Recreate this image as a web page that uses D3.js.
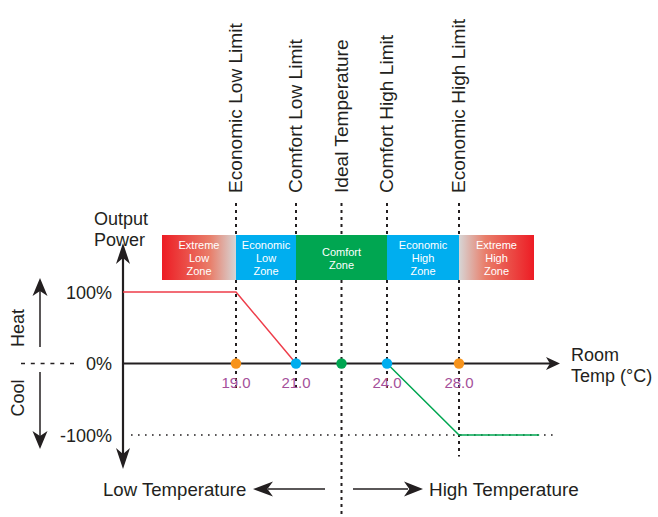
<!DOCTYPE html>
<html>
<head>
<meta charset="utf-8">
<script src="https://cdn.jsdelivr.net/npm/d3@7"></script>
<style>
  html, body { margin: 0; padding: 0; background: #fff; }
  svg { display: block; font-family: "Liberation Sans", Arial, Helvetica, sans-serif; }
</style>
</head>
<body>
<svg id="chart" width="658" height="517"></svg>
<script>
// ---------------- data ----------------
const limitLabels = ["Economic Low Limit", "Comfort Low Limit", "Ideal Temperature", "Comfort High Limit", "Economic High Limit"];
const limitTemps  = [19, 21, 22.5, 24, 28];
const limitColors = ["#f7941d", "#00aeef", "#00a651", "#00aeef", "#f7941d"];
const tempLabels  = ["19.0", "21.0", "", "24.0", "28.0"];
const limitLineEnds = [-40, -40, -215, -40, -130]; // output % where each dashed guide stops

const zoneNames = [["Extreme", "Low", "Zone"], ["Economic", "Low", "Zone"], ["Comfort", "Zone"], ["Economic", "High", "Zone"], ["Extreme", "High", "Zone"]];
const zoneStart = [17, 19, 21, 24, 28];
const zoneEnd   = [19, 21, 24, 28, 31];
const zoneFill  = ["url(#gradLow)", "#00aeef", "#00a651", "#00aeef", "url(#gradHigh)"];

const heatTemps  = [16, 19, 21];
const heatOutput = [100, 100, 0];
const coolTemps  = [24, 28, 31.2];
const coolOutput = [0, -100, -100];

const yTickValues = [100, 0, -100];
const yTickLabels = ["100%", "0%", "-100%"];

// ---------------- scales ----------------
const svg = d3.select("#chart");
const ink = "#231f20";
// schematic (piecewise) temperature axis
const x = d3.scaleLinear()
  .domain([16, 17, 19, 21, 24, 28, 31, 32])
  .range([123, 162, 236, 296, 387, 459, 534, 560]);
const y = d3.scaleLinear().domain([-100, 100]).range([435, 292]);

const x0 = x(16);
const xEnd = x(32);

function arrow(g, tx, ty, angleDeg, len, w, fill) {
  const notch = len * 0.72;
  g.append("path")
    .attr("d", `M0,0 L${-len},${-w / 2} L${-notch},0 L${-len},${w / 2} Z`)
    .attr("transform", `translate(${tx},${ty}) rotate(${angleDeg})`)
    .attr("fill", fill || ink);
}

// gradients
const defs = svg.append("defs");
const gl = defs.append("linearGradient").attr("id", "gradLow").attr("x1", "0%").attr("x2", "100%");
gl.append("stop").attr("offset", "0%").attr("stop-color", "#ed1c24");
gl.append("stop").attr("offset", "65%").attr("stop-color", "#e97e6a");
gl.append("stop").attr("offset", "100%").attr("stop-color", "#d6d6d6");
const gh = defs.append("linearGradient").attr("id", "gradHigh").attr("x1", "0%").attr("x2", "100%");
gh.append("stop").attr("offset", "0%").attr("stop-color", "#d6d6d6");
gh.append("stop").attr("offset", "35%").attr("stop-color", "#e97e6a");
gh.append("stop").attr("offset", "100%").attr("stop-color", "#ed1c24");

// ---------------- vertical dashed guides ----------------
svg.append("g").selectAll("line").data(limitTemps).join("line")
  .attr("x1", d => x(d)).attr("x2", d => x(d))
  .attr("y1", 203)
  .attr("y2", (d, i) => y(limitLineEnds[i]))
  .attr("stroke", ink).attr("stroke-width", 2)
  .attr("stroke-dasharray", "3,4");

// limit labels (rotated)
svg.append("g").selectAll("text").data(limitLabels).join("text")
  .attr("transform", (d, i) => `translate(${x(limitTemps[i]) + 6},193) rotate(-90)`)
  .attr("font-size", 19.1).attr("fill", ink)
  .text(d => d);

// ---------------- zone bar ----------------
const zg = svg.append("g");
zg.selectAll("rect").data(zoneNames).join("rect")
  .attr("x", (d, i) => x(zoneStart[i]))
  .attr("width", (d, i) => x(zoneEnd[i]) - x(zoneStart[i]))
  .attr("y", 235).attr("height", 45)
  .attr("fill", (d, i) => zoneFill[i]);
zg.selectAll("text").data(zoneNames).join("text")
  .attr("x", (d, i) => (x(zoneStart[i]) + x(zoneEnd[i])) / 2)
  .attr("y", d => 258 - (d.length - 1) * 6.5 + 4)
  .attr("text-anchor", "middle")
  .attr("font-size", 11).attr("fill", "#fff")
  .each(function (d) {
    d3.select(this).selectAll("tspan").data(d).join("tspan")
      .attr("x", d3.select(this).attr("x"))
      .attr("dy", (t, k) => k === 0 ? 0 : 13)
      .text(t => t);
  });

// ---------------- axes ----------------
// -100% dotted reference
svg.append("line")
  .attr("x1", x0 + 8).attr("x2", xEnd - 4)
  .attr("y1", y(-100)).attr("y2", y(-100))
  .attr("stroke", ink).attr("stroke-width", 1.6)
  .attr("stroke-dasharray", "1.6,5.4");

// y axis line with arrows
svg.append("line").attr("x1", x0).attr("x2", x0).attr("y1", 250).attr("y2", 462)
  .attr("stroke", ink).attr("stroke-width", 2.2);
arrow(svg, x0, 243, -90, 21, 14);
arrow(svg, x0, 469, 90, 21, 14);

// x axis line with arrow
svg.append("line").attr("x1", x0).attr("x2", xEnd - 6).attr("y1", y(0)).attr("y2", y(0))
  .attr("stroke", ink).attr("stroke-width", 2.2);
arrow(svg, xEnd, y(0), 0, 14, 13);

// y tick labels
svg.append("g").selectAll("text").data(yTickValues).join("text")
  .attr("x", 112).attr("y", d => y(d) + 6.5)
  .attr("text-anchor", "end").attr("font-size", 18).attr("fill", ink)
  .text((d, i) => yTickLabels[i]);

// axis titles
const op = svg.append("text").attr("font-size", 18).attr("fill", ink);
op.append("tspan").attr("x", 94).attr("y", 225).text("Output");
op.append("tspan").attr("x", 94).attr("y", 246).text("Power");
const rt = svg.append("text").attr("font-size", 18).attr("fill", ink);
rt.append("tspan").attr("x", 571).attr("y", 361).text("Room");
rt.append("tspan").attr("x", 571).attr("y", 382).text("Temp (°C)");

// ---------------- heat / cool lines ----------------
const line = d3.line().x(d => x(d[0])).y(d => y(d[1]));
svg.append("path").datum(heatTemps.map((t, i) => [t, heatOutput[i]]))
  .attr("d", line).attr("fill", "none").attr("stroke", "#ee3d4a").attr("stroke-width", 1.5);
svg.append("path").datum(coolTemps.map((t, i) => [t, coolOutput[i]]))
  .attr("d", line).attr("fill", "none").attr("stroke", "#00a651").attr("stroke-width", 1.5);

// points and temperature labels
svg.append("g").selectAll("circle").data(limitTemps).join("circle")
  .attr("cx", d => x(d)).attr("cy", y(0)).attr("r", 5.2)
  .attr("fill", (d, i) => limitColors[i]);
svg.append("g").selectAll("text").data(limitTemps).join("text")
  .attr("x", d => x(d)).attr("y", 388)
  .attr("text-anchor", "middle").attr("font-size", 15).attr("fill", "#a5509a")
  .text((d, i) => tempLabels[i]);

// ---------------- Heat / Cool legend on the left ----------------
const hx = 40;
svg.append("line").attr("x1", hx).attr("x2", hx).attr("y1", 290).attr("y2", 347)
  .attr("stroke", ink).attr("stroke-width", 1.5);
arrow(svg, hx, 278, -90, 18, 15);
svg.append("line").attr("x1", hx).attr("x2", hx).attr("y1", 372).attr("y2", 436)
  .attr("stroke", ink).attr("stroke-width", 1.5);
arrow(svg, hx, 449, 90, 18, 15);
svg.append("line").attr("x1", 21).attr("x2", 74).attr("y1", y(0)).attr("y2", y(0))
  .attr("stroke", ink).attr("stroke-width", 1.5).attr("stroke-dasharray", "4,5.8");
svg.append("text").attr("transform", `translate(24,328) rotate(-90)`)
  .attr("text-anchor", "middle").attr("font-size", 18).attr("fill", ink).text("Heat");
svg.append("text").attr("transform", `translate(24,398) rotate(-90)`)
  .attr("text-anchor", "middle").attr("font-size", 18).attr("fill", ink).text("Cool");

// ---------------- bottom direction hints ----------------
const by = 489;
svg.append("text").attr("x", 103).attr("y", by + 6.5).attr("font-size", 18.6).attr("fill", ink).text("Low Temperature");
svg.append("line").attr("x1", 268).attr("x2", 325).attr("y1", by).attr("y2", by).attr("stroke", ink).attr("stroke-width", 1.5);
arrow(svg, 253, by, 180, 20, 15);
svg.append("line").attr("x1", 353).attr("x2", 408).attr("y1", by).attr("y2", by).attr("stroke", ink).attr("stroke-width", 1.5);
arrow(svg, 423, by, 0, 19, 15);
svg.append("text").attr("x", 429).attr("y", by + 6.5).attr("font-size", 18.9).attr("fill", ink).text("High Temperature");
</script>
</body>
</html>
